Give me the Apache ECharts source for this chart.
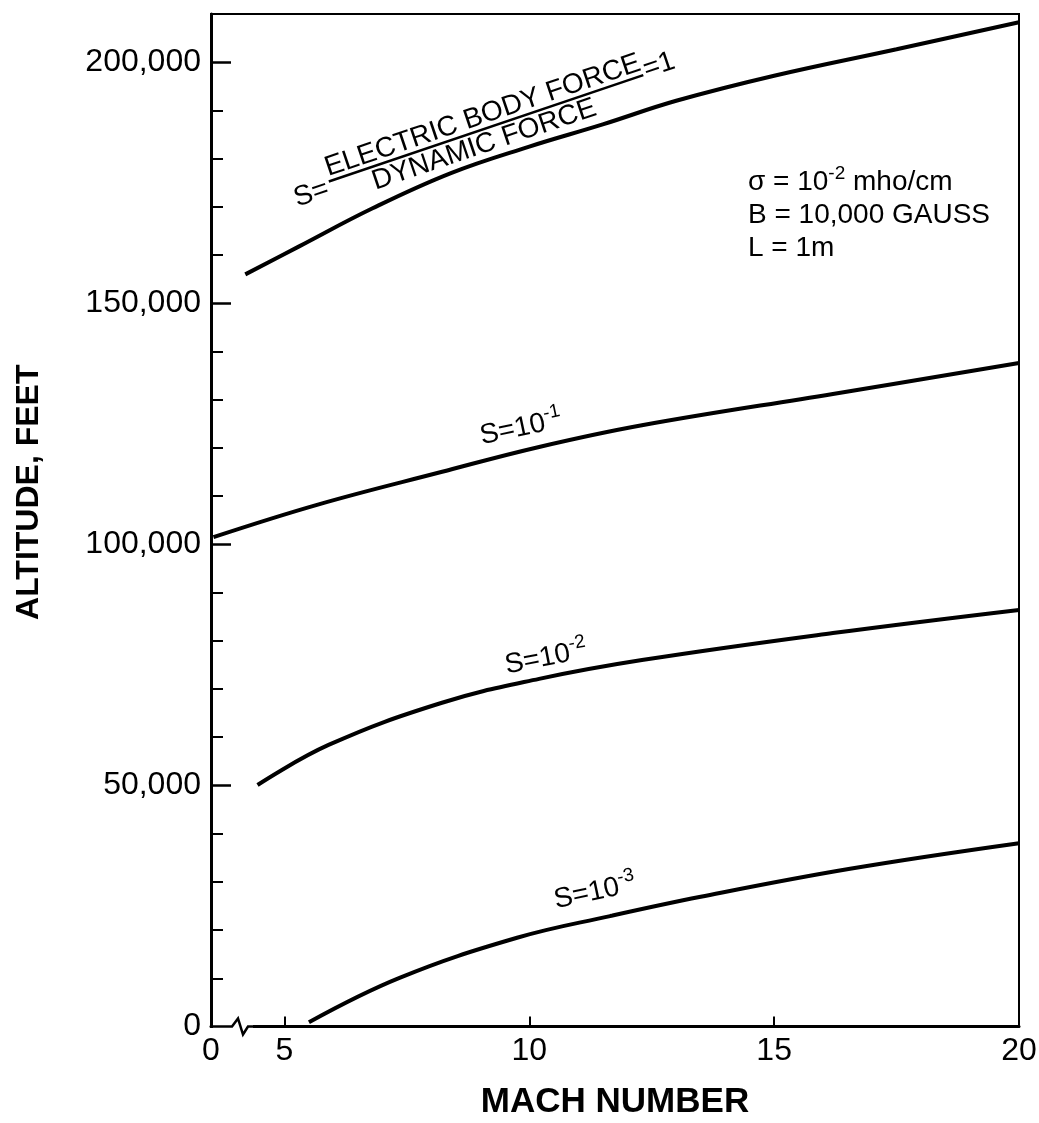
<!DOCTYPE html>
<html>
<head>
<meta charset="utf-8">
<script src="https://cdn.jsdelivr.net/npm/echarts@6/dist/echarts.min.js"></script>
<style>
html,body{margin:0;padding:0;background:#fff;}
#chart{width:1039px;height:1123px;}
</style>
</head>
<body>
<div id="chart"></div>
<script>
// ---- Data ----
const machS1   = [4.2, 5.3, 6.8, 8.4, 10.0, 11.5, 13.0, 15.0, 17.5, 20.0];
const altS1    = [156000, 161800, 169700, 177000, 182500, 187100, 192000, 197200, 202700, 208300];

const machS1e1 = [3.55, 5.7, 8.2, 10.2, 12.3, 16.2, 20.0];
const altS1e1  = [101500, 108300, 115000, 120200, 124700, 131200, 137600];

const machS1e2 = [4.45, 5.9, 8.2, 10.2, 12.3, 16.2, 20.0];
const altS1e2  = [50100, 58400, 67100, 72100, 76000, 81600, 86400];

const machS1e3 = [5.5, 7.35, 9.75, 11.65, 13.5, 16.55, 20.0];
const altS1e3  = [900, 10100, 18400, 22900, 26900, 32700, 38000];

const xLabelValues = [3.5, 5, 10, 15, 20];
const xLabelTexts  = ['0', '5', '10', '15', '20'];
const xTickValues  = [5, 10, 15];
const yLabelValues = [0, 50000, 100000, 150000, 200000];
const yMinorValues = [10000, 20000, 30000, 40000, 60000, 70000, 80000, 90000, 110000, 120000, 130000, 140000, 160000, 170000, 180000, 190000];

const xName = 'MACH NUMBER';
const yName = 'ALTITUDE, FEET';
const paramLines = [
  '{n|σ = 10}{s|-2}{n| mho/cm}',
  '{n|B = 10,000 GAUSS}',
  '{n|L = 1m}'
];

// ---- Chart ----
const FONT = '"Liberation Sans", Arial, sans-serif';
const chart = echarts.init(document.getElementById('chart'), null, {renderer: 'canvas'});

function pairs(xs, ys) { return xs.map((x, i) => [x, ys[i]]); }
function curve(name, xs, ys) {
  return {
    name: name, type: 'line', data: pairs(xs, ys),
    xAxisIndex: 0, yAxisIndex: 0,
    symbol: 'none', smooth: 0.4,
    lineStyle: {color: '#000', width: 4},
    silent: true, animation: false
  };
}

const option = {
  backgroundColor: '#fff',
  animation: false,
  grid: {
    left: 211, right: 20, top: 14, bottom: 96.5,
    show: true, borderColor: '#000', borderWidth: 2,
    containLabel: false, outerBoundsMode: 'none'
  },
  xAxis: {
    type: 'value', min: 3.5, max: 20,
    name: xName, nameLocation: 'middle', nameGap: 58,
    nameTextStyle: {fontFamily: FONT, fontWeight: 'bold', fontSize: 35, color: '#000'},
    axisLine: {show: true, lineStyle: {color: '#000', width: 3}},
    axisTick: {show: true, inside: true, length: 10, customValues: xTickValues, lineStyle: {color: '#000', width: 2}},
    axisLabel: {
      show: true, margin: 9, customValues: xLabelValues,
      fontFamily: FONT, fontSize: 32, color: '#000',
      formatter: function (v) {
        const i = xLabelValues.indexOf(v);
        return i >= 0 ? xLabelTexts[i] : '';
      }
    },
    splitLine: {show: false}
  },
  yAxis: [
    {
      type: 'value', min: 0, max: 210000, position: 'left',
      name: yName, nameLocation: 'middle', nameGap: 166,
      nameTextStyle: {fontFamily: FONT, fontWeight: 'bold', fontSize: 32, color: '#000', padding: [0, 0, 0, 56]},
      axisLine: {show: true, lineStyle: {color: '#000', width: 3}},
      axisTick: {show: true, inside: true, length: 20, customValues: yLabelValues, lineStyle: {color: '#000', width: 2.5}},
      axisLabel: {
        show: true, margin: 10, customValues: yLabelValues,
        fontFamily: FONT, fontSize: 32, color: '#000',
        formatter: function (v) { return v.toLocaleString('en-US'); }
      },
      splitLine: {show: false}
    },
    {
      type: 'value', min: 0, max: 210000, position: 'left', offset: 0,
      axisLine: {show: false},
      axisTick: {show: true, inside: true, length: 12, customValues: yMinorValues, lineStyle: {color: '#000', width: 2}},
      axisLabel: {show: false},
      splitLine: {show: false}
    }
  ],
  series: [
    curve('S=1', machS1, altS1),
    curve('S=10^-1', machS1e1, altS1e1),
    curve('S=10^-2', machS1e2, altS1e2),
    curve('S=10^-3', machS1e3, altS1e3)
  ]
};
chart.setOption(option);

// ---- Annotations ----
const origin = chart.convertToPixel({gridIndex: 0}, [3.5, 0]);
const ox = origin[0], oy = origin[1];

const richBase = {
  n: {fontFamily: FONT, fontSize: 28, fill: '#000'},
  s: {fontFamily: FONT, fontSize: 19, fill: '#000', padding: [0, 0, 16, 0]}
};
const curveRich = {
  n: {fontFamily: FONT, fontSize: 28, fill: '#000'},
  s: {fontFamily: FONT, fontSize: 19, fill: '#000', padding: [0, 0, 18, 0]}
};
const deg = Math.PI / 180;

function curveLabel(text, x, y, angle) {
  return {
    type: 'text', x: x, y: y, rotation: angle * deg, z: 100,
    style: {text: text, rich: curveRich, align: 'center', verticalAlign: 'middle'}
  };
}

const graphics = [
  // axis break on the x axis
  {type: 'rect', z: 100, shape: {x: ox + 2, y: oy - 4, width: 40, height: 8}, style: {fill: '#fff'}},
  {type: 'polyline', z: 101, shape: {points: [[ox, oy], [ox + 21, oy], [ox + 27, oy - 8], [ox + 32, oy + 8], [ox + 37, oy], [ox + 44, oy]]},
   style: {stroke: '#000', lineWidth: 2.5, fill: null}},
  // parameter block
  {type: 'text', x: 748, y: 182, z: 100, style: {text: paramLines[0], rich: richBase, align: 'left', verticalAlign: 'middle'}},
  {type: 'text', x: 748, y: 215, z: 100, style: {text: paramLines[1], rich: richBase, align: 'left', verticalAlign: 'middle'}},
  {type: 'text', x: 748, y: 248, z: 100, style: {text: paramLines[2], rich: richBase, align: 'left', verticalAlign: 'middle'}},
  // curve labels
  curveLabel('{n|S=10}{s|-1}', 521, 428, 12),
  curveLabel('{n|S=10}{s|-2}', 546, 658, 11),
  curveLabel('{n|S=10}{s|-3}', 595, 892, 12),
  // S = ELECTRIC BODY FORCE / DYNAMIC FORCE = 1
  {
    type: 'group', x: 487, y: 128, rotation: 18.7 * deg, z: 100,
    children: [
      {type: 'line', shape: {x1: -167, y1: 0, x2: 165, y2: 0}, style: {stroke: '#000', lineWidth: 2.5}},
      {type: 'text', x: 0, y: -13, style: {text: 'ELECTRIC BODY FORCE', fontFamily: FONT, fontSize: 28, fill: '#000', align: 'center', verticalAlign: 'middle'}},
      {type: 'text', x: -8, y: 15, style: {text: 'DYNAMIC FORCE', fontFamily: FONT, fontSize: 28, fill: '#000', align: 'center', verticalAlign: 'middle'}},
      {type: 'text', x: -170, y: 6, style: {text: 'S=', fontFamily: FONT, fontSize: 28, fill: '#000', align: 'right', verticalAlign: 'middle'}},
      {type: 'text', x: 167, y: -4, style: {text: '=1', fontFamily: FONT, fontSize: 28, fill: '#000', align: 'left', verticalAlign: 'middle'}}
    ]
  }
];
chart.setOption({graphic: graphics});
</script>
</body>
</html>
